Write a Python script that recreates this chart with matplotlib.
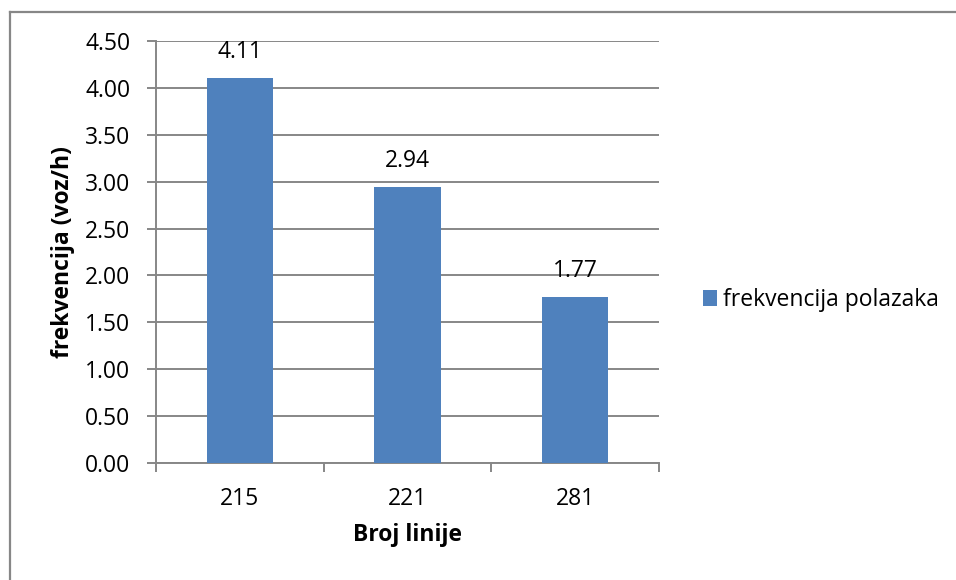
import matplotlib
matplotlib.use("Agg")
import matplotlib.pyplot as plt
from matplotlib.lines import Line2D
import numpy as np

categories = ["215", "221", "281"]
values = [4.11, 2.94, 1.77]
series_name = "frekvencija polazaka"
yticks = [0.0, 0.5, 1.0, 1.5, 2.0, 2.5, 3.0, 3.5, 4.0, 4.5]

plt.rcParams['font.family'] = ['Open Sans', 'DejaVu Sans']
bar_color = "#4F81BD"
grid_color = "#878787"
FS = 16.5

W, H = 956, 580
fig = plt.figure(figsize=(W/100, H/100), dpi=100)
ax = fig.add_axes([156/W, 1-463/H, (659-156)/W, (463-41)/H])

x = np.arange(len(categories))
bars = ax.bar(x, values, width=0.395, color=bar_color, label=series_name, zorder=3)

ax.set_xlim(-0.5, len(categories)-0.5)
ax.set_ylim(0, 4.5)
ax.set_yticks(yticks)
ax.set_yticklabels([f"{v:.2f}" for v in yticks], fontsize=FS)
ax.set_xticks(x)
ax.set_xticklabels(categories, fontsize=FS)
ax.tick_params(axis='x', length=0, pad=17)
ax.set_xticks(np.arange(-0.5, len(categories), 1.0), minor=True)
ax.tick_params(axis='x', which='minor', length=6.5, color=grid_color, width=1.4, direction='out')
ax.tick_params(axis='y', length=6.5, color=grid_color, width=1.4, pad=12)

ax.grid(axis='y', color=grid_color, linewidth=1.4, zorder=0)
for s in ['top', 'right']:
    ax.spines[s].set_visible(False)
for s in ['left', 'bottom']:
    ax.spines[s].set_color(grid_color)
    ax.spines[s].set_linewidth(1.4)

for xi, v in zip(x, values):
    ax.annotate(f"{v:.2f}", xy=(xi, v), xytext=(0, 14.4), textcoords='offset points',
                ha='center', va='baseline', fontsize=FS)

ax.set_ylabel("frekvencija (voz/h)", fontsize=FS, fontweight='bold', labelpad=7)
ax.set_xlabel("Broj linije", fontsize=FS, fontweight='bold', labelpad=9)

leg = fig.legend(handles=[bars], labels=[series_name], loc='center left',
                 bbox_to_anchor=(703/W, 1-300/H), frameon=False, fontsize=FS,
                 handlelength=0.62, handleheight=0.65, handletextpad=0.26,
                 borderpad=0, borderaxespad=0)

# outer chart frame (only left and top edges visible in the crop)
fig.add_artist(Line2D([10/W, 10/W], [0, 1-11.5/H], transform=fig.transFigure,
                      color=grid_color, linewidth=1.6))
fig.add_artist(Line2D([10/W, 1], [1-11.5/H, 1-11.5/H], transform=fig.transFigure,
                      color=grid_color, linewidth=1.6))

fig.savefig("out.png", dpi=100, facecolor='white')
